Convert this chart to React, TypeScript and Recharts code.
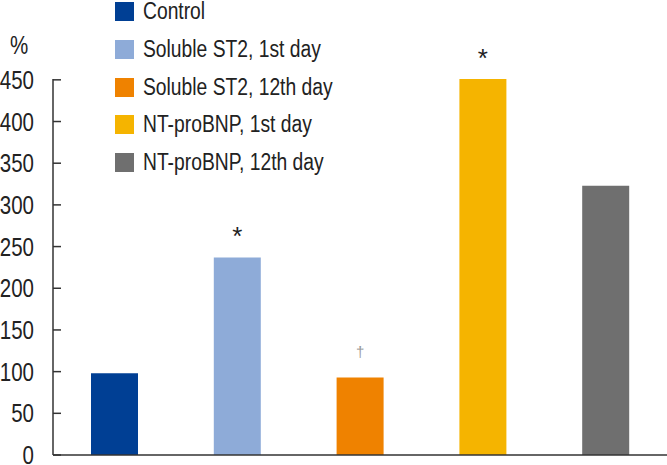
import React from "react";
import { BarChart, Bar, XAxis, YAxis, Cell, LabelList } from "recharts";

const groups = [
  "Control",
  "Soluble ST2, 1st day",
  "Soluble ST2, 12th day",
  "NT-proBNP, 1st day",
  "NT-proBNP, 12th day",
];
const values = [98, 237, 93, 451, 323];
const marks = ["", "*", "†", "*", ""];
const colors = ["#003f94", "#8eabd8", "#ef8200", "#f5b400", "#6f6f6f"];
const yTicks = [0, 50, 100, 150, 200, 250, 300, 350, 400, 450];

// condensed look: Liberation Sans squeezed horizontally
const FONT = "'Liberation Sans', Arial, sans-serif";
const SQUEEZE = 0.82;

const data = groups.map((g, i) => ({ group: g, value: values[i], mark: marks[i] }));

function YTick({ x, y, payload }: any) {
  return (
    <g>
      <line x1={x} x2={x + 8} y1={y} y2={y} stroke="#333" strokeWidth={1.5} />
      <text
        transform={`translate(${x - 19},${y + 9}) scale(${SQUEEZE},1)`}
        textAnchor="end"
        fontSize={25}
        fill="#222"
        fontFamily={FONT}
      >
        {payload.value}
      </text>
    </g>
  );
}

function MarkLabel({ x, y, width, value }: any) {
  if (!value) return null;
  const dagger = value === "†";
  return (
    <text
      x={x + width / 2}
      y={dagger ? y - 20 : y - 12}
      textAnchor="middle"
      fontSize={dagger ? 15 : 26}
      fill={dagger ? "#999" : "#222"}
      fontFamily={FONT}
    >
      {value}
    </text>
  );
}

function LegendBox() {
  return (
    <div style={{ position: "absolute", left: 115, top: -7, fontFamily: FONT }}>
      {groups.map((g, i) => (
        <div key={g} style={{ display: "flex", alignItems: "center", height: 37.7 }}>
          <span style={{ width: 19, height: 19, background: colors[i], marginRight: 9, flexShrink: 0 }} />
          <span
            style={{
              fontSize: 23.5,
              color: "#222",
              whiteSpace: "nowrap",
              display: "inline-block",
              transform: `scaleX(${SQUEEZE})`,
              transformOrigin: "left center",
            }}
          >
            {g}
          </span>
        </div>
      ))}
    </div>
  );
}

export default function App() {
  return (
    <div style={{ position: "absolute", left: 0, top: 0, width: 667, height: 465, background: "#fff" }}>
      <BarChart width={667} height={465} data={data} margin={{ top: 79, right: 0, bottom: 0, left: 0 }}>
        <XAxis dataKey="group" tick={false} tickLine={false} height={10} axisLine={{ stroke: "#333", strokeWidth: 1.5 }} />
        <YAxis
          domain={[0, 450]}
          ticks={yTicks}
          width={53}
          tickSize={0}
          tickMargin={0}
          tickLine={false}
          tick={<YTick />}
          axisLine={{ stroke: "#333", strokeWidth: 1.5 }}
        />
        <Bar dataKey="value" barSize={47} isAnimationActive={false}>
          {data.map((d, i) => (
            <Cell key={d.group} fill={colors[i]} />
          ))}
          <LabelList dataKey="mark" content={<MarkLabel />} />
        </Bar>
      </BarChart>
      <div
        style={{
          position: "absolute",
          left: 10,
          top: 31,
          fontSize: 25,
          fontFamily: FONT,
          color: "#222",
          transform: `scaleX(${SQUEEZE})`,
          transformOrigin: "left center",
        }}
      >
        %
      </div>
      <LegendBox />
    </div>
  );
}
